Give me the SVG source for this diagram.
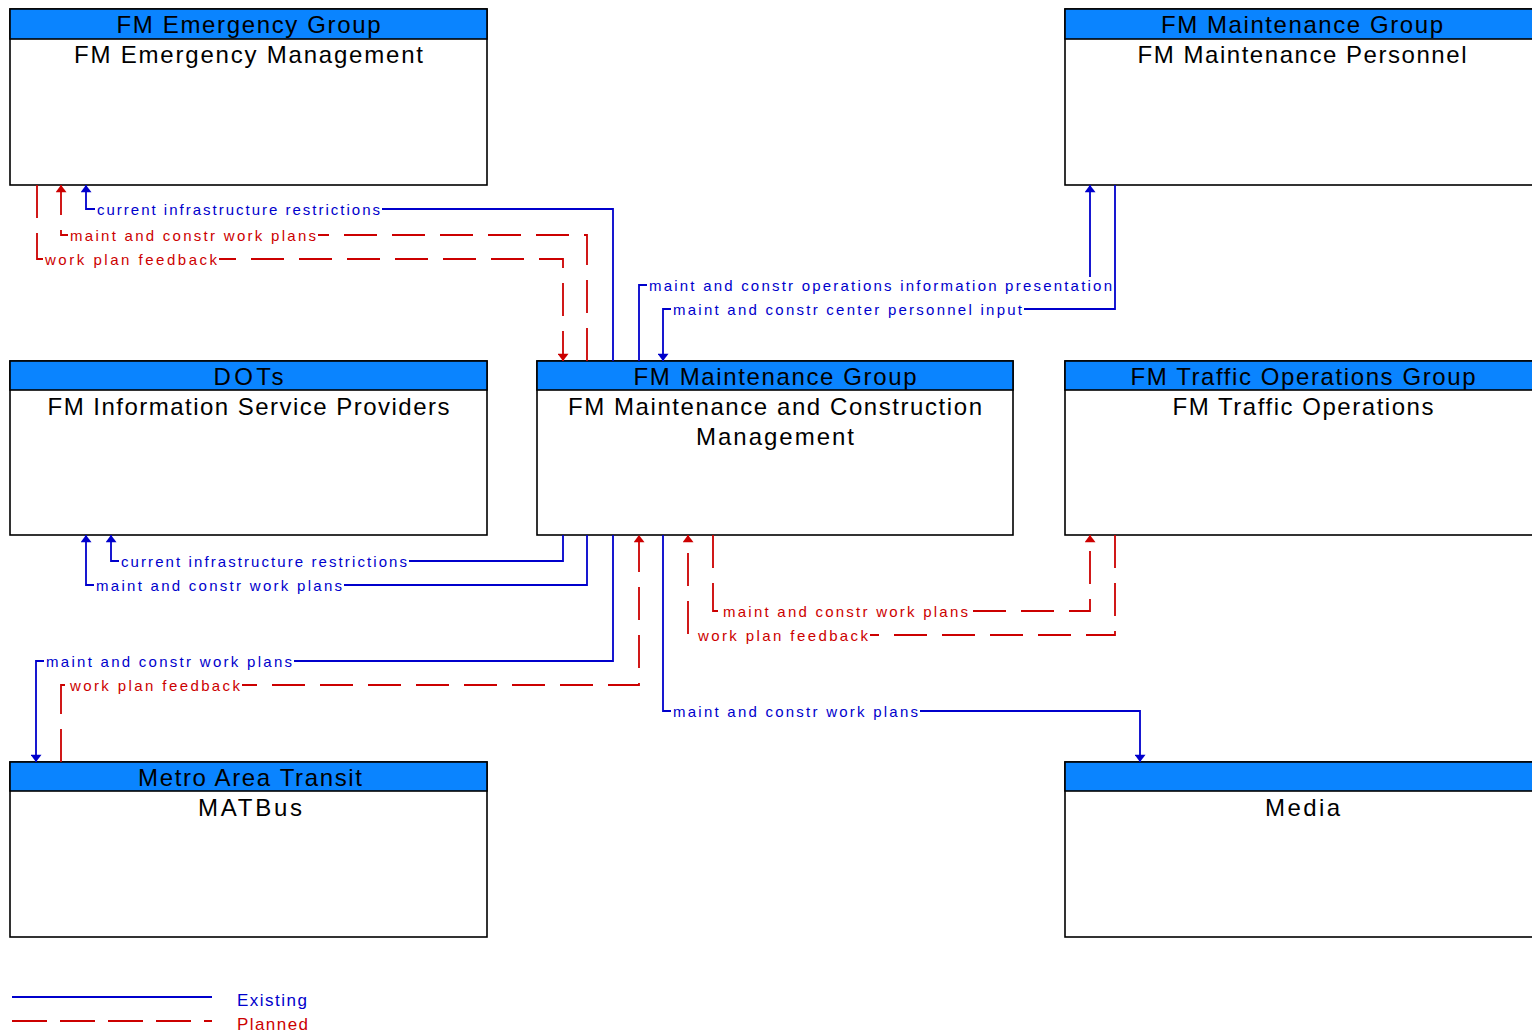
<svg xmlns="http://www.w3.org/2000/svg" width="1532" height="1033" viewBox="0 0 1532 1033">
<style>
.box{fill:#fff;stroke:#000;stroke-width:1.6}
.hdr{fill:#0a84ff;stroke:#000;stroke-width:1.6}
.ht{font-family:"Liberation Sans",Arial,sans-serif;font-size:24px;fill:#000;text-anchor:middle}
.nt{font-family:"Liberation Sans",Arial,sans-serif;font-size:24px;fill:#000;text-anchor:middle}
.ex{fill:none;stroke:#0000cc;stroke-width:1.8}
.pl{fill:none;stroke:#cc0000;stroke-width:1.8;stroke-dasharray:33 15}
.exa{marker-end:url(#ab)}
.pla{marker-end:url(#ar)}
.lb{font-family:"Liberation Sans",Arial,sans-serif;font-size:15px}
.lbb{fill:#0000cc}
.lbr{fill:#cc0000}
.bg{fill:#fff}
</style>
<defs>
<marker id="ab" viewBox="0 0 8 12" refX="8" refY="6" markerUnits="userSpaceOnUse" markerWidth="8" markerHeight="11" orient="auto"><path d="M0,0 L8,6 L0,12 z" fill="#0000cc"/></marker>
<marker id="ar" viewBox="0 0 8 12" refX="8" refY="6" markerUnits="userSpaceOnUse" markerWidth="8" markerHeight="11" orient="auto"><path d="M0,0 L8,6 L0,12 z" fill="#cc0000"/></marker>
</defs>

<g id="node-em">
<rect class="box" x="10" y="9" width="477" height="176"/>
<rect class="hdr" x="10" y="9" width="477" height="30"/>
<text class="ht" x="248.5" y="32.5" textLength="264" lengthAdjust="spacing">FM Emergency Group</text>
<text class="nt" x="248.5" y="62.5" textLength="349" lengthAdjust="spacing">FM Emergency Management</text>
</g>
<g id="node-mp">
<rect class="box" x="1065" y="9" width="477" height="176"/>
<rect class="hdr" x="1065" y="9" width="477" height="30"/>
<text class="ht" x="1302" y="32.5" textLength="282" lengthAdjust="spacing">FM Maintenance Group</text>
<text class="nt" x="1302" y="62.5" textLength="329" lengthAdjust="spacing">FM Maintenance Personnel</text>
</g>
<g id="node-isp">
<rect class="box" x="10" y="361" width="477" height="174"/>
<rect class="hdr" x="10" y="361" width="477" height="29"/>
<text class="ht" x="248.5" y="384.5" textLength="70" lengthAdjust="spacing">DOTs</text>
<text class="nt" x="248.5" y="414.5" textLength="402" lengthAdjust="spacing">FM Information Service Providers</text>
</g>
<g id="node-mcm">
<rect class="box" x="537" y="361" width="476" height="174"/>
<rect class="hdr" x="537" y="361" width="476" height="29"/>
<text class="ht" x="775" y="384.5" textLength="283" lengthAdjust="spacing">FM Maintenance Group</text>
<text class="nt" x="775" y="414.5" textLength="414" lengthAdjust="spacing">FM Maintenance and Construction</text>
<text class="nt" x="775" y="444.5" textLength="158" lengthAdjust="spacing">Management</text>
</g>
<g id="node-to">
<rect class="box" x="1065" y="361" width="477" height="174"/>
<rect class="hdr" x="1065" y="361" width="477" height="29"/>
<text class="ht" x="1303" y="384.5" textLength="345" lengthAdjust="spacing">FM Traffic Operations Group</text>
<text class="nt" x="1303" y="414.5" textLength="261" lengthAdjust="spacing">FM Traffic Operations</text>
</g>
<g id="node-mat">
<rect class="box" x="10" y="762" width="477" height="175"/>
<rect class="hdr" x="10" y="762" width="477" height="29"/>
<text class="ht" x="250" y="785.5" textLength="224" lengthAdjust="spacing">Metro Area Transit</text>
<text class="nt" x="250" y="815.5" textLength="104" lengthAdjust="spacing">MATBus</text>
</g>
<g id="node-media">
<rect class="box" x="1065" y="762" width="477" height="175"/>
<rect class="hdr" x="1065" y="762" width="477" height="29"/>
<text class="nt" x="1302.5" y="815.5" textLength="75" lengthAdjust="spacing">Media</text>
</g>

<g id="connectors">
<path class="ex exa" d="M613,361 V209 H86 V185"/>
<path class="pl pla" d="M587,361 V235 H61 V185"/>
<path class="pl pla" d="M37,185 V259 H563 V361"/>
<path class="ex exa" d="M639,361 V285 H1090 V185"/>
<path class="ex exa" d="M1115,185 V309 H663 V361"/>
<path class="ex exa" d="M563,535 V561 H111 V535"/>
<path class="ex exa" d="M587,535 V585 H86 V535"/>
<path class="ex exa" d="M613,535 V661 H36 V762"/>
<path class="pl pla" d="M61,762 V685 H639 V535"/>
<path class="pl pla" d="M713,535 V611 H1090 V535"/>
<path class="pl pla" d="M1115,535 V635 H688 V535"/>
<path class="ex exa" d="M663,535 V711 H1140 V762"/>

<rect class="bg" x="95" y="201" width="287" height="16"/>
<text class="lb lbb" x="97" y="215" textLength="283" lengthAdjust="spacing">current infrastructure restrictions</text>
<rect class="bg" x="68" y="227" width="250" height="16"/>
<text class="lb lbr" x="70" y="241" textLength="246" lengthAdjust="spacing">maint and constr work plans</text>
<rect class="bg" x="43" y="251" width="176" height="16"/>
<text class="lb lbr" x="45" y="265" textLength="172" lengthAdjust="spacing">work plan feedback</text>
<rect class="bg" x="647" y="277" width="466" height="16"/>
<text class="lb lbb" x="649" y="291" textLength="463" lengthAdjust="spacing">maint and constr operations information presentation</text>
<rect class="bg" x="671" y="301" width="353" height="16"/>
<text class="lb lbb" x="673" y="315" textLength="349" lengthAdjust="spacing">maint and constr center personnel input</text>
<rect class="bg" x="119" y="553" width="290" height="16"/>
<text class="lb lbb" x="121" y="567" textLength="286" lengthAdjust="spacing">current infrastructure restrictions</text>
<rect class="bg" x="94" y="577" width="250" height="16"/>
<text class="lb lbb" x="96" y="591" textLength="246" lengthAdjust="spacing">maint and constr work plans</text>
<rect class="bg" x="44" y="653" width="250" height="16"/>
<text class="lb lbb" x="46" y="667" textLength="246" lengthAdjust="spacing">maint and constr work plans</text>
<rect class="bg" x="68" y="677" width="174" height="16"/>
<text class="lb lbr" x="70" y="691" textLength="170" lengthAdjust="spacing">work plan feedback</text>
<rect class="bg" x="721" y="603" width="249" height="16"/>
<text class="lb lbr" x="723" y="617" textLength="245" lengthAdjust="spacing">maint and constr work plans</text>
<rect class="bg" x="696" y="627" width="174" height="16"/>
<text class="lb lbr" x="698" y="641" textLength="170" lengthAdjust="spacing">work plan feedback</text>
<rect class="bg" x="671" y="703" width="249" height="16"/>
<text class="lb lbb" x="673" y="717" textLength="245" lengthAdjust="spacing">maint and constr work plans</text>
</g>

<g id="legend">
<path class="ex" d="M12,997 H212"/>
<path class="pl" d="M12,1021 H212" style="stroke-dasharray:35 13"/>
<text class="lb lbb" x="237" y="1006" style="font-size:17px" textLength="70" lengthAdjust="spacing">Existing</text>
<text class="lb lbr" x="237" y="1030" style="font-size:17px" textLength="71" lengthAdjust="spacing">Planned</text>
</g>
</svg>
